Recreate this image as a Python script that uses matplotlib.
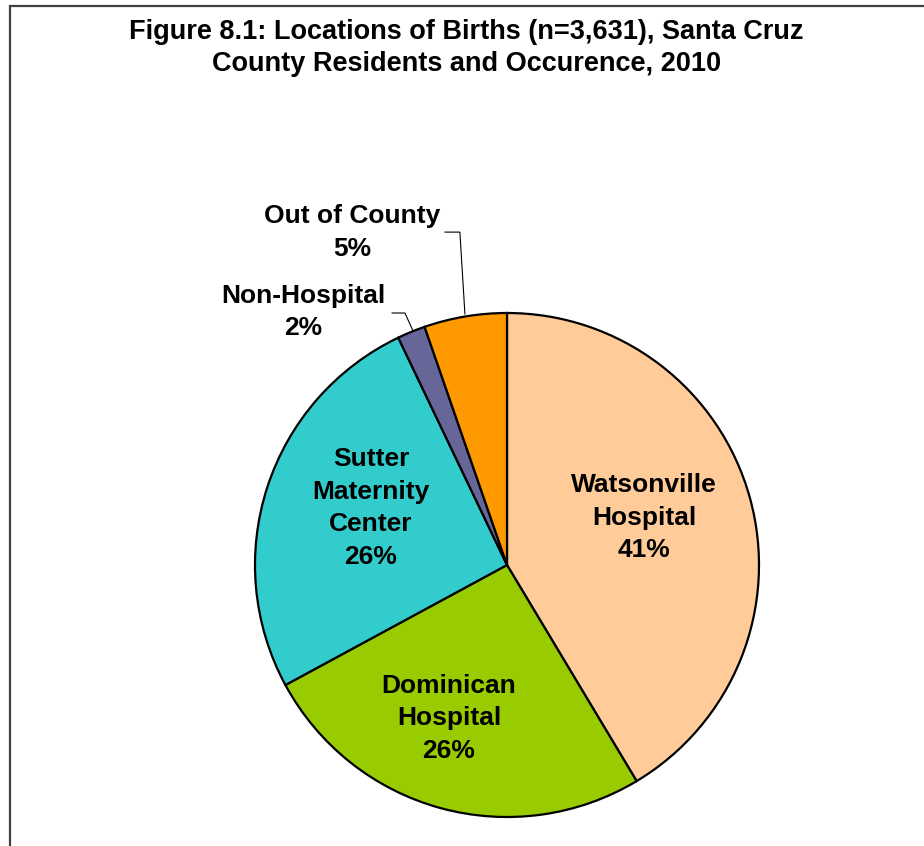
import matplotlib

matplotlib.use("Agg")
import matplotlib.pyplot as plt
from matplotlib.patches import Rectangle

plt.rcParams["font.family"] = ["Liberation Sans", "DejaVu Sans"]

labels = ["Watsonville\nHospital", "Dominican\nHospital", "Sutter\nMaternity\nCenter",
          "Non-Hospital", "Out of County"]
shares = [41.4, 25.7, 25.8, 1.8, 5.3]
colors = ["#FFCC99", "#99CC00", "#33CCCC", "#666699", "#FF9900"]

W, H = 924, 846
fig = plt.figure(figsize=(W / 100, H / 100), dpi=100)

# frame around the chart (runs off the right/bottom edges)
fig.patches.append(Rectangle((10 / W, -0.1), 1.2, 1.1 - 6 / H, transform=fig.transFigure,
                             fill=False, edgecolor="#404040", lw=1.6))

fig.text(0.505, 1 - 48 / H, "Figure 8.1: Locations of Births (n=3,631), Santa Cruz\n"
         "County Residents and Occurence, 2010", ha="center", va="center",
         fontsize=19.5, fontweight="bold", linespacing=1.3)

cx, cy, r = 507, 565, 252
ax = fig.add_axes([(cx - r) / W, (H - cy - r) / H, 2 * r / W, 2 * r / H])
ax.pie(shares, colors=colors, startangle=90, counterclock=False, radius=1,
       wedgeprops=dict(edgecolor="black", linewidth=1.6))
ax.set_xlim(-1, 1)
ax.set_ylim(-1, 1)
ax.set_aspect("equal")
ax.axis("off")

# label positions in pie units
label_pos = [(0.544, 0.187), (-0.23, -0.608), (-0.54, 0.226), (-0.81, 1.004), (-0.615, 1.32)]
for name, pct, (x, y) in zip(labels, shares, label_pos):
    ax.text(x, y, f"{name}\n{round(pct)}%", ha="center", va="center", fontsize=19,
            fontweight="bold", linespacing=1.45, clip_on=False)

# leader lines for the small slices
ax.plot([-0.246, -0.187, -0.167], [1.321, 1.321, 0.996], color="black", lw=0.8, clip_on=False)
ax.plot([-0.456, -0.405, -0.373], [1.0, 1.0, 0.929], color="black", lw=0.8, clip_on=False)

fig.savefig("out.png", dpi=100)
